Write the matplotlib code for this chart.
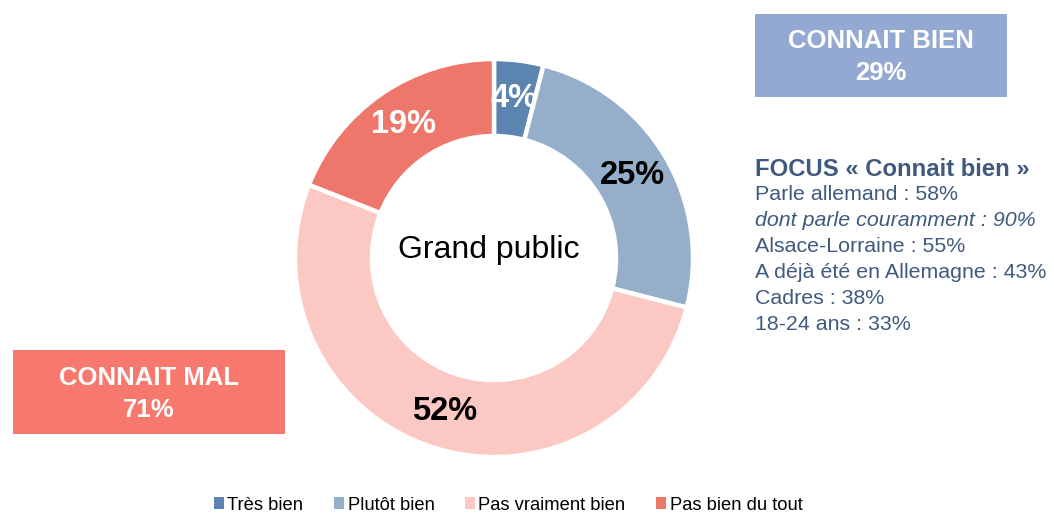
import matplotlib
matplotlib.use("Agg")
import matplotlib.pyplot as plt
from matplotlib.patches import Rectangle

plt.rcParams['font.family'] = ['Liberation Sans', 'DejaVu Sans']

categories = ["Très bien", "Plutôt bien", "Pas vraiment bien", "Pas bien du tout"]
values = [4, 25, 52, 19]
colors = ["#5B85B0", "#95AFCB", "#FCC8C3", "#EE776B"]
label_colors = ["white", "black", "black", "white"]
center_label = "Grand public"
box_bien = ("CONNAIT BIEN", "29%")
box_mal = ("CONNAIT MAL", "71%")
focus_title = "FOCUS « Connait bien »"
focus_lines = ["Parle allemand : 58%", "dont parle couramment : 90%", "Alsace-Lorraine : 55%",
               "A déjà été en Allemagne : 43%", "Cadres : 38%", "18-24 ans : 33%"]
focus_italic = [False, True, False, False, False, False]

W, H = 1054, 514
fig = plt.figure(figsize=(W / 100, H / 100), dpi=100)
ax = fig.add_axes([0, 0, 1, 1])

def Y(y):
    return H - y

R = 199
wedges, texts, autotexts = ax.pie(
    values, colors=colors, startangle=90, counterclock=False,
    center=(494, Y(258)), radius=R,
    wedgeprops=dict(width=77, edgecolor="white", linewidth=3.2),
    autopct="%d%%", pctdistance=0.81,
    textprops=dict(fontsize=23.5, fontweight="bold"))
for t, c in zip(autotexts, label_colors):
    t.set_color(c)

ax.set_xlim(0, W)
ax.set_ylim(0, H)
ax.set_aspect("equal")
ax.axis("off")

ax.text(489, Y(250), center_label, ha="center", va="center", fontsize=23, color="black")

# boxes
ax.add_patch(Rectangle((755, Y(97)), 252, 83, facecolor="#94A9D1", edgecolor="none"))
ax.text(881, Y(41), box_bien[0], ha="center", va="center", fontsize=18.5, fontweight="bold", color="white")
ax.text(881, Y(73), box_bien[1], ha="center", va="center", fontsize=18.5, fontweight="bold", color="white")

ax.add_patch(Rectangle((13, Y(434)), 272, 84, facecolor="#F7796E", edgecolor="none"))
ax.text(149, Y(378), box_mal[0], ha="center", va="center", fontsize=18.5, fontweight="bold", color="white")
ax.text(149, Y(410), box_mal[1], ha="center", va="center", fontsize=18.5, fontweight="bold", color="white")

# focus text
focus_color = "#3F5A7E"
ax.text(755, Y(169), focus_title, ha="left", va="center", fontsize=17.2, fontweight="bold", color=focus_color)
for i, (line, it) in enumerate(zip(focus_lines, focus_italic)):
    ax.text(755, Y(195 + i * 25.8), line, ha="left", va="center", fontsize=15.4,
            fontstyle="italic" if it else "normal", color=focus_color)

handles = [Rectangle((0, 0), 1, 1, facecolor=c, edgecolor="none") for c in colors]
fig.legend(handles, categories, loc="center", bbox_to_anchor=(508 / W, 1 - 505 / H),
           ncol=4, frameon=False, fontsize=13.2, handlelength=0.55, handleheight=0.55,
           handletextpad=0.2, columnspacing=1.65, borderaxespad=0)

fig.savefig("out.png", dpi=100)
